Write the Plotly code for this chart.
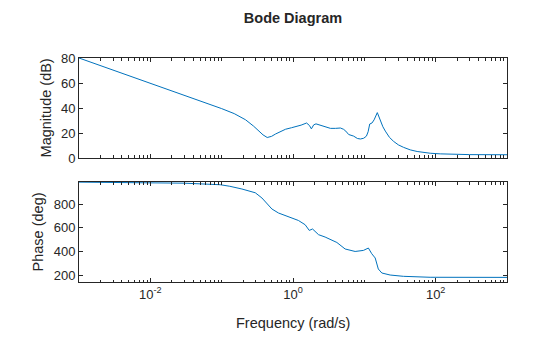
import plotly.graph_objects as go

# Magnitude response: frequency (rad/s) and gain (dB)
mag_freq = [0.001, 0.002, 0.005, 0.01, 0.02, 0.05, 0.1, 0.15, 0.216, 0.28, 0.332,
            0.38, 0.435, 0.5, 0.569, 0.68, 0.785, 0.95, 1.08, 1.3, 1.55, 1.7, 1.81,
            1.95, 2.1, 2.45, 2.85, 3.35, 3.94, 4.62, 5.1, 5.5, 6.03, 7.08, 8.0, 8.81,
            9.8, 10.7, 11.3, 11.9, 12.8, 13.7, 15.2, 16.0, 16.8, 18.2, 19.7, 22.5,
            25.7, 30.0, 35.5, 44.0, 55.0, 70.0, 84.0, 116.0, 170.0, 300.0, 1000.0]
mag_db = [80, 74, 66, 60, 54, 46, 39.5, 35.5, 30.6, 25.5, 21.5,
          18.5, 16.4, 17.3, 19.2, 21.5, 23.0, 24.2, 25.0, 26.3, 28.0, 26.0, 23.3,
          26.5, 27.3, 26.0, 24.8, 23.7, 23.7, 24.0, 23.0, 21.5, 18.8, 17.5, 15.6, 15.2,
          15.8, 17.5, 21.0, 27.2, 28.0, 30.5, 36.3, 33.0, 29.8, 25.0, 21.5, 16.5,
          13.3, 10.5, 8.5, 6.5, 5.2, 4.3, 3.8, 3.3, 2.9, 2.7, 2.6]

# Phase response: frequency (rad/s) and phase (deg)
phase_freq = [0.001, 0.003, 0.01, 0.03, 0.0955, 0.13, 0.192, 0.296, 0.367, 0.431,
              0.506, 0.626, 0.865, 1.19, 1.48, 1.69, 1.88, 2.28, 2.82, 3.32, 4.12,
              5.38, 7.43, 9.71, 11.4, 12.7, 14.2, 15.7, 17.6, 23.0, 35.3, 83.6, 1000.0]
phase_deg = [985, 984, 982, 976, 963, 950, 927, 895, 851, 808,
             758, 724, 690, 661, 625, 577, 589, 541, 521, 504, 475,
             420, 399, 408, 428, 380, 344, 251, 217, 200, 189, 181, 180]

mag_ticks = [0, 20, 40, 60, 80]
phase_ticks = [200, 400, 600, 800]
freq_ticks = [0.01, 1, 100]
freq_tick_text = ["10<sup>-2</sup>", "10<sup>0</sup>", "10<sup>2</sup>"]

LINE = "#0072BD"
INK = "#262626"
FONT = "Liberation Sans, Arial, Helvetica, sans-serif"

minor_vals = [m * 10.0 ** e for e in range(-3, 3) for m in range(1, 10)] + [1000.0]
minor_vals = [v for v in minor_vals if all(abs(v - t) > 1e-12 for t in freq_ticks)]

fig = go.Figure()
fig.add_trace(go.Scatter(x=mag_freq, y=mag_db, mode="lines",
                         line=dict(color=LINE, width=1), xaxis="x", yaxis="y",
                         showlegend=False))
fig.add_trace(go.Scatter(x=phase_freq, y=phase_deg, mode="lines",
                         line=dict(color=LINE, width=1), xaxis="x2", yaxis="y2",
                         showlegend=False))

common_x = dict(type="log", range=[-3, 3], tickvals=freq_ticks, ticks="inside",
                ticklen=4, tickcolor=INK, showline=True, linecolor=INK, linewidth=1,
                mirror="ticks", showgrid=False, zeroline=False,
                minor=dict(tickvals=minor_vals, ticks="inside", ticklen=2.5,
                           tickcolor=INK, showgrid=False),
                tickfont=dict(family=FONT, size=13, color=INK))
common_y = dict(ticks="inside", ticklen=4, tickcolor=INK, showline=True,
                linecolor=INK, linewidth=1, mirror="ticks", showgrid=False,
                zeroline=False, tickfont=dict(family=FONT, size=13, color=INK))

fig.update_layout(
    width=560, height=337,
    margin=dict(l=78.6, r=52.9, t=58.3, b=54.7),
    paper_bgcolor="white", plot_bgcolor="white",
    xaxis=dict(common_x, domain=[0, 1], anchor="y", showticklabels=False),
    yaxis=dict(common_y, domain=[0.5536, 1], anchor="x", range=[0, 80],
               tickvals=mag_ticks),
    xaxis2=dict(common_x, domain=[0, 1], anchor="y2", matches="x",
                ticktext=freq_tick_text),
    yaxis2=dict(common_y, domain=[0, 0.4464], anchor="x2", range=[141, 986],
                tickvals=phase_ticks),
    title=dict(text="<b>Bode Diagram</b>", x=0.5, xref="paper", xanchor="center",
               y=1 - 18 / 337, yref="container", yanchor="middle",
               font=dict(family=FONT, size=14.5, color=INK)),
    annotations=[
        dict(text="Magnitude (dB)", x=46, y=108.3, xref="paper", yref="paper",
             showarrow=False, textangle=-90,
             font=dict(family=FONT, size=14.5, color=INK)),
        dict(text="Phase (deg)", x=38, y=232.3, xref="paper", yref="paper",
             showarrow=False, textangle=-90,
             font=dict(family=FONT, size=14.5, color=INK)),
        dict(text="Frequency (rad/s)", x=292.8, y=323, xref="paper", yref="paper",
             showarrow=False, font=dict(family=FONT, size=14.5, color=INK)),
    ],
)

# Place the axis titles in pixel terms relative to the plotting area
pw = 560 - 78.6 - 52.9
ph = 337 - 58.3 - 54.7
for a in fig.layout.annotations:
    a.x = (a.x - 78.6) / pw
    a.y = 1 - (a.y - 58.3) / ph
    a.xanchor = "center"
    a.yanchor = "middle"

fig.write_html("out.html")
